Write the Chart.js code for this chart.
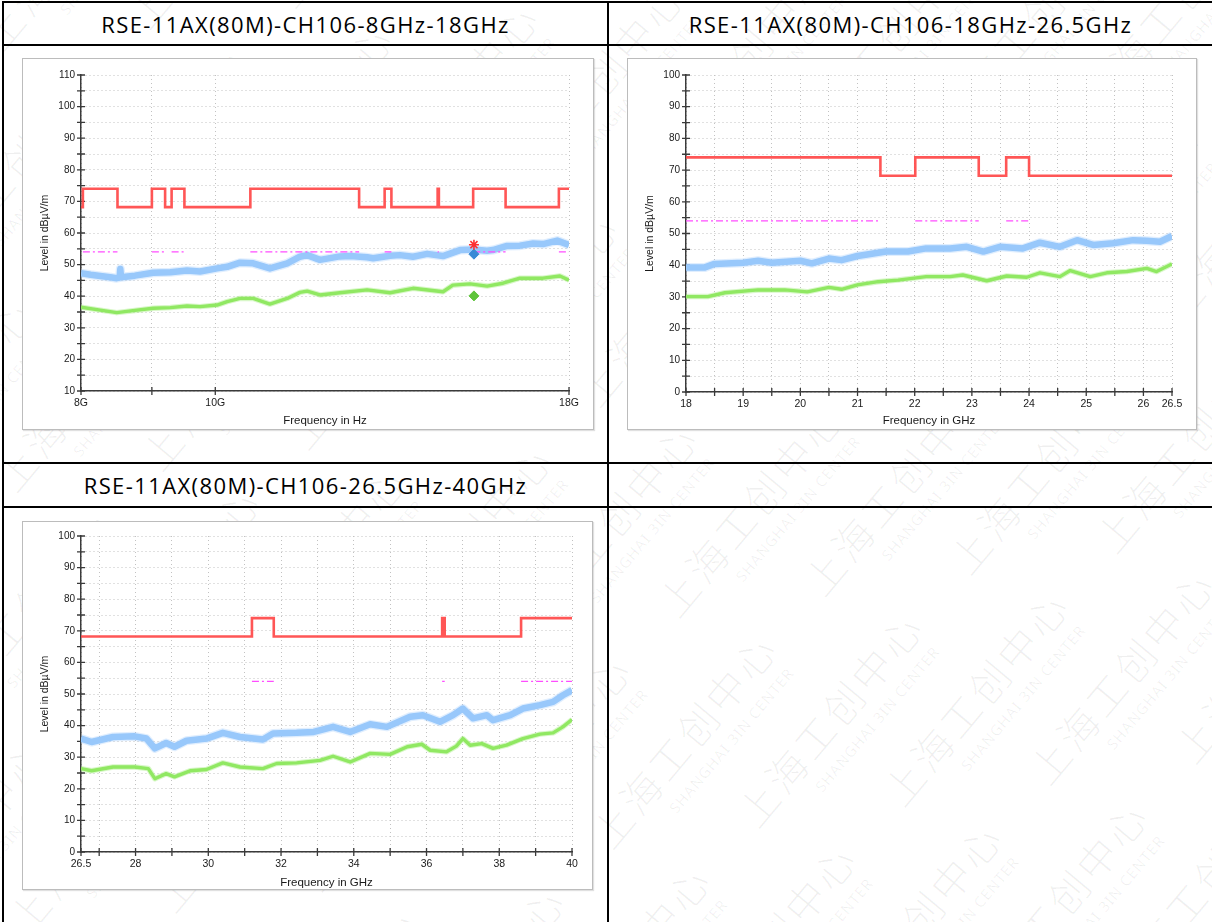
<!DOCTYPE html>
<html>
<head>
<meta charset="utf-8">
<script src="https://cdn.jsdelivr.net/npm/chart.js@4.4.1/dist/chart.umd.min.js"></script>
<style>
  html, body { margin: 0; padding: 0; background: #fff; }
  body { width: 1212px; height: 922px; position: relative; overflow: hidden; font-family: 'Liberation Sans', Arial, sans-serif; }
  #wm { position: absolute; left: 0; top: 0; width: 1212px; height: 922px; overflow: hidden; z-index: 0; pointer-events: none; }
  #wmInner { position: absolute; left: -800px; top: -900px; width: 2800px; height: 2700px; transform: rotate(-50deg); transform-origin: 1400px 1350px; }
  .wmrow { white-space: nowrap; height: 98px; }
  .wmunit { display: inline-block; position: relative; width: 330px; height: 98px; }
  .wmunit .cn { position: absolute; left: 0; top: 8px; font-family: 'Noto Sans CJK SC', sans-serif; font-weight: 300; font-size: 40px; line-height: 48px; color: rgba(0,0,0,0.06); letter-spacing: 4px; }
  .wmunit .en { position: absolute; left: 70px; top: 60px; font-family: 'Noto Sans', sans-serif; font-size: 15px; line-height: 18px; color: rgba(0,0,0,0.06); letter-spacing: 1px; }
  .rule { position: absolute; background: #000; z-index: 3; }
  .head { position: absolute; z-index: 3; text-align: center; font-family: 'Open Sans', sans-serif; font-size: 22px; letter-spacing: 1.4px; color: #000; white-space: nowrap; }
  .frame { position: absolute; background: #fff; border: 1px solid #bcbcbc; box-shadow: 1px 1px 1px rgba(0,0,0,0.12); box-sizing: border-box; z-index: 1; }
  canvas { position: absolute; z-index: 2; }
</style>
</head>
<body>
<div id="wm"><div id="wmInner"></div></div>

<!-- table rules -->
<div class="rule" style="left:2px;top:1px;width:1210px;height:2px"></div>
<div class="rule" style="left:2px;top:1px;width:2px;height:921px"></div>
<div class="rule" style="left:607px;top:1px;width:2px;height:921px"></div>
<div class="rule" style="left:2px;top:44px;width:1210px;height:2px"></div>
<div class="rule" style="left:2px;top:462px;width:1210px;height:2px"></div>
<div class="rule" style="left:2px;top:506px;width:1210px;height:2px"></div>

<div class="head" style="left:4px;width:603px;top:4px;height:40px;line-height:40px">RSE-11AX(80M)-CH106-8GHz-18GHz</div>
<div class="head" style="left:609px;width:603px;top:4px;height:40px;line-height:40px">RSE-11AX(80M)-CH106-18GHz-26.5GHz</div>
<div class="head" style="left:4px;width:603px;top:465px;height:41px;line-height:41px">RSE-11AX(80M)-CH106-26.5GHz-40GHz</div>

<div class="frame" style="left:22px;top:58px;width:572px;height:372px"></div>
<div class="frame" style="left:627px;top:58px;width:570px;height:372px"></div>
<div class="frame" style="left:22px;top:521px;width:571px;height:369px"></div>

<canvas id="c1" width="572" height="372" style="left:22px;top:58px"></canvas>
<canvas id="c2" width="570" height="372" style="left:627px;top:58px"></canvas>
<canvas id="c3" width="571" height="369" style="left:22px;top:521px"></canvas>

<script>
// ---------- 8 GHz - 18 GHz ----------
const c1PeakF = [8.00, 8.13, 8.26, 8.40, 8.49, 8.53, 8.54, 8.55, 8.75, 9.02, 9.28, 9.54, 9.75, 10.03, 10.20, 10.42, 10.65, 10.95, 11.27, 11.51, 11.65, 11.90, 12.30, 12.51, 12.87, 13.00, 13.37, 13.59, 13.89, 14.22, 14.60, 15.02, 15.35, 15.71, 15.86, 16.24, 16.59, 16.96, 17.24, 17.65, 18.00];
const c1PeakV = [47.3, 46.8, 46.4, 46.0, 45.7, 45.9, 48.6, 46.0, 46.5, 47.4, 47.6, 48.1, 47.8, 48.8, 49.3, 50.6, 50.4, 48.8, 50.4, 52.5, 53.0, 51.5, 52.6, 52.7, 52.3, 52.0, 52.8, 53.0, 52.5, 53.4, 52.7, 54.6, 54.8, 54.4, 54.6, 55.9, 56.0, 56.7, 56.5, 57.6, 56.2];
const c1AvgF = [8.00, 8.26, 8.49, 8.75, 9.02, 9.28, 9.54, 9.75, 10.03, 10.20, 10.42, 10.65, 10.95, 11.27, 11.51, 11.65, 11.90, 12.30, 12.87, 13.37, 13.89, 14.60, 14.84, 15.27, 15.71, 16.13, 16.59, 17.24, 17.73, 18.00];
const c1AvgV = [36.5, 35.6, 34.8, 35.5, 36.2, 36.4, 36.9, 36.7, 37.2, 38.3, 39.3, 39.3, 37.5, 39.3, 41.2, 41.6, 40.4, 41.1, 42.0, 41.1, 42.5, 41.4, 43.5, 43.9, 43.2, 44.1, 45.7, 45.7, 46.4, 45.1];
const c1LimEdges = [8, 8.025, 8.5, 9.0, 9.2, 9.3, 9.5, 10.6, 12.7, 13.25, 13.4, 14.47, 14.5, 15.35, 16.2, 17.7, 18];
const c1LimLevels = [68.2, 74, 68.2, 74, 68.2, 74, 68.2, 74, 68.2, 74, 68.2, 74, 68.2, 74, 68.2, 74, 74];
const c1AvgBands = [[8.025, 8.5], [9.0, 9.2], [9.3, 9.5], [10.6, 12.7], [13.25, 13.4], [14.47, 14.5], [15.35, 16.2], [17.7, 18]];
const c1MarkF = 15.37;
const c1MarkPeak = 56.3;
const c1MarkQp = 53.3;
const c1MarkAvg = 40.1;
const x1Ticks = [8, 9, 10, 18];
const x1Labels = ['8G', '', '10G', '18G'];

// ---------- 18 GHz - 26.5 GHz ----------
const c2PeakF = [18.00, 18.33, 18.50, 19.00, 19.26, 19.50, 20.00, 20.20, 20.50, 20.72, 21.00, 21.50, 21.88, 22.20, 22.62, 22.91, 23.20, 23.49, 23.89, 24.19, 24.54, 24.84, 25.12, 25.47, 25.82, 26.06, 26.29, 26.50];
const c2PeakV = [39.3, 39.3, 40.4, 40.8, 41.4, 40.8, 41.4, 40.6, 42.1, 41.6, 42.9, 44.3, 44.3, 45.3, 45.3, 45.8, 44.3, 45.8, 45.3, 47.1, 45.8, 47.9, 46.4, 46.9, 47.9, 47.7, 47.4, 49.2];
const c2AvgF = [18.00, 18.38, 18.68, 19.26, 19.73, 20.12, 20.50, 20.72, 21.00, 21.36, 21.71, 22.20, 22.62, 22.84, 23.26, 23.61, 23.96, 24.19, 24.54, 24.72, 25.07, 25.36, 25.71, 26.06, 26.23, 26.50];
const c2AvgV = [30.1, 30.1, 31.3, 32.2, 32.2, 31.6, 33.0, 32.4, 33.8, 34.8, 35.3, 36.4, 36.4, 36.9, 35.1, 36.6, 36.2, 37.6, 36.4, 38.3, 36.4, 37.6, 38.0, 39.0, 38.0, 40.4];
const c2LimEdges = [18, 21.4, 22.01, 23.12, 23.6, 24.0, 26.5];
const c2LimLevels = [74, 68.2, 74, 68.2, 74, 68.2, 68.2];
const c2AvgBands = [[18, 21.4], [22.01, 23.12], [23.6, 24.0]];
const x2Ticks = [18, 18.5, 19, 19.5, 20, 20.5, 21, 21.5, 22, 22.5, 23, 23.5, 24, 24.5, 25, 25.5, 26, 26.5];
const x2Labels = ['18', '', '19', '', '20', '', '21', '', '22', '', '23', '', '24', '', '25', '', '26', '26.5'];

// ---------- 26.5 GHz - 40 GHz ----------
const c3PeakF = [26.50, 26.79, 27.38, 27.98, 28.30, 28.53, 28.84, 29.07, 29.40, 29.95, 30.40, 30.87, 31.50, 31.78, 32.43, 32.90, 33.43, 33.90, 34.45, 34.91, 35.55, 35.90, 36.37, 36.73, 37.00, 37.28, 37.66, 37.83, 38.30, 38.65, 39.12, 39.48, 39.75, 40.00];
const c3PeakV = [35.9, 34.8, 36.4, 36.6, 35.9, 32.8, 34.5, 33.3, 35.2, 35.9, 37.7, 36.4, 35.6, 37.5, 37.7, 38.0, 39.6, 38.0, 40.4, 39.6, 42.8, 43.3, 41.2, 43.3, 45.4, 42.3, 43.3, 41.7, 43.3, 45.4, 46.5, 47.5, 49.6, 51.2];
const c3AvgF = [26.50, 26.79, 27.38, 27.98, 28.35, 28.53, 28.84, 29.07, 29.50, 29.95, 30.40, 30.87, 31.50, 31.88, 32.43, 33.07, 33.43, 33.90, 34.45, 35.00, 35.47, 35.87, 36.10, 36.55, 36.82, 37.00, 37.20, 37.52, 37.83, 38.20, 38.65, 39.12, 39.48, 39.75, 40.00];
const c3AvgV = [26.4, 25.7, 26.9, 26.9, 26.4, 23.2, 24.8, 23.8, 25.7, 26.1, 28.2, 26.9, 26.4, 28.0, 28.2, 29.0, 30.3, 28.5, 31.2, 30.9, 33.3, 34.1, 32.2, 31.7, 33.5, 35.9, 33.8, 34.3, 32.8, 33.8, 35.9, 37.3, 37.7, 39.6, 41.9];
const c3LimEdges = [26.5, 31.2, 31.8, 36.43, 36.5, 38.6, 40];
const c3LimLevels = [68.2, 74, 68.2, 74, 68.2, 74, 74];
const c3AvgBands = [[31.2, 31.8], [36.43, 36.5], [38.6, 40]];
const x3Ticks = [26.5, 27, 28, 29, 30, 31, 32, 33, 34, 35, 36, 37, 38, 39, 40];
const x3Labels = ['26.5', '', '28', '', '30', '', '32', '', '34', '', '36', '', '38', '', '40'];

const AVG_LIMIT = 54;
const Y_STEP = 5;
const Y_TITLE = 'Level in dB\u00b5V/m';

// ---------- shared styling ----------
Chart.defaults.font.family = "'Liberation Sans', Arial, sans-serif";
Chart.defaults.color = '#1a1a1a';

const INK = '#1a1a1a';
const GRID = { color: '#c2c2c2', lineWidth: 1, drawTicks: false };
const BORDER = { display: true, color: '#3a3a3a', width: 1.5, dash: [1, 3] };

function pts(xs, ys) { return xs.map((x, i) => ({ x: x, y: ys[i] })); }
function bandPts(bands, level) {
  const out = [];
  bands.forEach(([a, b]) => { out.push({ x: a, y: level }, { x: b, y: level }, { x: b, y: null }); });
  return out;
}

// short tick marks that cross each axis line
const crossTicks = {
  id: 'crossTicks',
  beforeDatasetsDraw(chart) {
    const { ctx, chartArea: a, scales: { x, y } } = chart;
    ctx.save();
    ctx.strokeStyle = '#3a3a3a';
    ctx.lineWidth = 1.3;
    ctx.beginPath();
    y.ticks.forEach((t, i) => {
      const py = y.getPixelForTick(i);
      ctx.moveTo(a.left - 4, py); ctx.lineTo(a.left + 4, py);
    });
    x.ticks.forEach((t, i) => {
      const px = x.getPixelForTick(i);
      ctx.moveTo(px, a.bottom - 4); ctx.lineTo(px, a.bottom + 4);
    });
    ctx.stroke();
    ctx.restore();
  }
};

function yScale(min, max) {
  return {
    type: 'linear', min: min, max: max,
    ticks: { stepSize: Y_STEP, autoSkip: false, padding: 6, font: { size: 10 }, color: INK,
             callback: v => (v % 10 === 0 ? String(v) : '') },
    grid: GRID, border: BORDER,
    title: { display: true, text: Y_TITLE, font: { size: 10.5 }, color: INK, padding: { top: 17, bottom: 0 } },
    afterFit: s => { s.width = 59; }
  };
}

function xScale(type, min, max, ticks, labels, title, height, titlePad) {
  return {
    type: type, min: min, max: max,
    afterBuildTicks: s => { s.ticks = ticks.map(v => ({ value: v })); },
    ticks: { autoSkip: false, maxRotation: 0, padding: 6, font: { size: 10.5 }, color: INK,
             callback: (v, i) => labels[i] },
    grid: GRID, border: BORDER,
    title: { display: true, text: title, font: { size: 11.5 }, color: INK, padding: { top: 0, bottom: titlePad } },
    afterFit: s => { s.height = height; }
  };
}

// each measured trace: a solid core with a faint ragged-looking edge around it
function traceSets(peakF, peakV, avgF, avgV, limEdges, limLevels, avgBands) {
  const peak = pts(peakF, peakV);
  const avg = pts(avgF, avgV);
  return [
    { label: 'Avg limit', data: bandPts(avgBands, AVG_LIMIT), borderColor: '#ff4dff', borderWidth: 1.3,
      borderDash: [7, 3, 2, 3], pointRadius: 0, spanGaps: false },
    { label: 'Peak limit', data: pts(limEdges, limLevels), borderColor: 'rgba(255,72,72,0.92)', borderWidth: 2.6,
      stepped: true, pointRadius: 0 },
    { label: 'Average', data: avg, borderColor: '#90e862', borderWidth: 3.4,
      pointRadius: 0, borderJoinStyle: 'round' },
    { label: 'Average edge', data: avg, borderColor: 'rgba(144,232,98,0.35)', borderWidth: 5.5,
      pointRadius: 0, borderJoinStyle: 'round' },
    { label: 'Peak', data: peak, borderColor: '#98c8fb', borderWidth: 6.5,
      pointRadius: 0, borderJoinStyle: 'round' },
    { label: 'Peak edge', data: peak, borderColor: 'rgba(152,200,251,0.3)', borderWidth: 9,
      pointRadius: 0, borderJoinStyle: 'round' }
  ];
}

function makeChart(id, xOpts, yOpts, datasets, pad) {
  return new Chart(document.getElementById(id), {
    type: 'line',
    data: { datasets: datasets },
    options: {
      responsive: false, animation: false,
      layout: { padding: pad },
      plugins: { legend: { display: false }, tooltip: { enabled: false }, title: { display: false } },
      scales: { x: xOpts, y: yOpts },
      elements: { line: { tension: 0 } }
    },
    plugins: [crossTicks]
  });
}

// 8 - 18 GHz, logarithmic frequency axis, with final measurement markers
const set1 = [
  { label: 'Peak final', data: [{ x: c1MarkF, y: c1MarkPeak }], showLine: false, pointStyle: 'star',
    pointRadius: 5, borderColor: '#ff3030', borderWidth: 1.6, backgroundColor: '#ff3030' },
  { label: 'QP final', data: [{ x: c1MarkF, y: c1MarkQp }], showLine: false, pointStyle: 'rectRot',
    pointRadius: 5, borderColor: '#3a8ad6', backgroundColor: '#3a8ad6' },
  { label: 'Avg final', data: [{ x: c1MarkF, y: c1MarkAvg }], showLine: false, pointStyle: 'rectRot',
    pointRadius: 5, borderColor: '#5ec43a', backgroundColor: '#5ec43a' }
].concat(traceSets(c1PeakF, c1PeakV, c1AvgF, c1AvgV, c1LimEdges, c1LimLevels, c1AvgBands));

makeChart('c1',
  xScale('logarithmic', 8, 18, x1Ticks, x1Labels, 'Frequency in Hz', 39, 2),
  yScale(10, 110), set1, { top: 17, right: 25, left: 0, bottom: 0 });

makeChart('c2',
  xScale('linear', 18, 26.5, x2Ticks, x2Labels, 'Frequency in GHz', 38, 2),
  yScale(0, 100),
  traceSets(c2PeakF, c2PeakV, c2AvgF, c2AvgV, c2LimEdges, c2LimLevels, c2AvgBands),
  { top: 17, right: 25, left: 0, bottom: 0 });

makeChart('c3',
  xScale('linear', 26.5, 40, x3Ticks, x3Labels, 'Frequency in GHz', 38, 0),
  yScale(0, 100),
  traceSets(c3PeakF, c3PeakV, c3AvgF, c3AvgV, c3LimEdges, c3LimLevels, c3AvgBands),
  { top: 15, right: 21, left: 0, bottom: 0 });

// background watermark
const WM_CN = '上海工创中心';
const WM_EN = 'SHANGHAI 3IN CENTER';
const wmInner = document.getElementById('wmInner');
for (let r = 0; r < 28; r++) {
  const row = document.createElement('div');
  row.className = 'wmrow';
  row.style.paddingLeft = ((r * 110) % 330) + 'px';
  let html = '';
  for (let k = 0; k < 9; k++) html += '<span class="wmunit"><span class="cn">' + WM_CN + '</span><span class="en">' + WM_EN + '</span></span>';
  row.innerHTML = html;
  wmInner.appendChild(row);
}
</script>
</body>
</html>
